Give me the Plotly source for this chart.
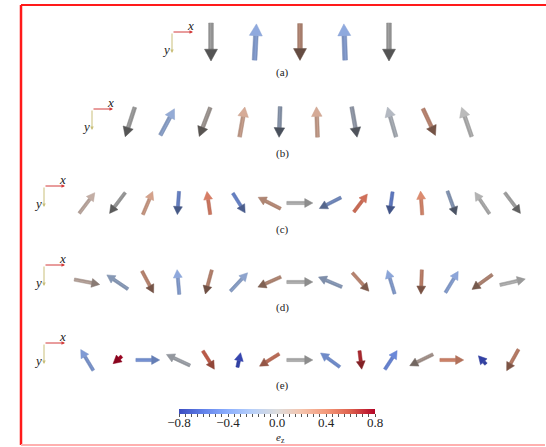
import numpy as np
import plotly.graph_objects as go
import plotly.colors as pc

# ---------------- data ----------------
row_labels = ["(a)", "(b)", "(c)", "(d)", "(e)"]
# in-plane direction (deg, x to the right, y downward) and out-of-plane component e_z
angles_a = [90, -87, 90, -92, 90]
ez_a = [0.0, -0.3, 0.25, -0.3, 0.0]
angles_b = [108, -62, 111, -80, 92, -92, 80, -106, 65, -109]
ez_b = [0.0, -0.25, 0.05, 0.2, -0.15, 0.2, -0.1, -0.05, 0.3, 0.0]
angles_c = [-53, 127, -67, 94, -98, 58, -153, 0, 153, -53, 98, -94, 70, -124, 53]
ez_c = [0.1, 0.0, 0.25, -0.45, 0.45, -0.45, 0.25, 0.0, -0.35, 0.5, -0.5, 0.4, -0.2, 0.0, 0.0]
angles_d = [11, -146, 62, -95, 105, -47, 156, 0, -157, 48, -107, 92, -59, 144, -13]
ez_d = [0.1, -0.2, 0.3, -0.3, 0.3, -0.25, 0.25, 0.0, -0.2, 0.3, -0.3, 0.35, -0.3, 0.25, 0.0]
angles_e = [-121, 140, 0, -155, 58, -78, 148, 0, -144, 83, -57, 154, 0, -132, 119]
ez_e = [-0.35, 0.9, -0.4, -0.05, 0.55, -0.82, 0.45, 0.0, -0.4, 0.7, -0.5, 0.1, 0.4, -0.9, 0.35]

cbar_ticks = [-0.8, -0.4, 0.0, 0.4, 0.8]
cbar_ticktext = ["\u22120.8", "\u22120.4", "0.0", "0.4", "0.8"]
cbar_title = "<i>e</i><sub>z</sub>"

coolwarm = [[0.0, "rgb(59,76,192)"], [0.125, "rgb(98,130,234)"], [0.25, "rgb(141,176,254)"],
            [0.375, "rgb(184,208,249)"], [0.5, "rgb(221,221,221)"], [0.625, "rgb(245,196,173)"],
            [0.75, "rgb(244,154,123)"], [0.875, "rgb(222,96,77)"], [1.0, "rgb(180,4,38)"]]
CMIN, CMAX = -0.8, 0.8

# ---------------- layout of the rows (pixel space) ----------------
W, H = 546, 447
rows = [
    dict(ang=angles_a, ez=ez_a, x0=211, dx=44.5, y=42, L=38, ox=172, oy=32, lab_y=72),
    dict(ang=angles_b, ez=ez_b, x0=130, dx=37.4, y=122, L=31, ox=92, oy=109, lab_y=153),
    dict(ang=angles_c, ez=ez_c, x0=87, dx=30.4, y=203, L=26, ox=44, oy=186, lab_y=229),
    dict(ang=angles_d, ez=ez_d, x0=87, dx=30.4, y=282, L=26, ox=44, oy=265, lab_y=307),
    dict(ang=angles_e, ez=ez_e, x0=87, dx=30.4, y=360, L=26, ox=44, oy=343, lab_y=385),
]

FONT = "Liberation Serif, Times New Roman, serif"


def shade(rgb_str, f):
    r, g, b = pc.unlabel_rgb(rgb_str)
    sat = (max(r, g, b) - min(r, g, b)) / 255.0
    fe = f + (1 - f) * min(1.0, max(0.0, sat - 0.3) * 1.5) if f < 1 else f
    return "rgb(%d,%d,%d)" % tuple(int(max(0, min(255, c * fe))) for c in (r, g, b))


fig = go.Figure()
annotations = []

for k, row in enumerate(rows):
    for i, (phi, ez) in enumerate(zip(row["ang"], row["ez"])):
        cx = row["x0"] + i * row["dx"]
        cy = row["y"]
        L = row["L"]
        t = np.radians(phi)
        u = np.array([np.cos(t), np.sin(t)])
        n = np.array([-u[1], u[0]])
        l = L * np.sqrt(max(0.0, 1 - ez ** 2))
        c = np.array([cx, cy])
        tail = c - u * l / 2
        tip = c + u * l / 2
        hl = min(0.31 * L, 0.72 * l)
        hw = 0.17 * L
        sw = 0.062 * L
        base = tip - u * hl
        tcol = min(1.0, max(0.0, (ez - CMIN) / (CMAX - CMIN)))
        base_c = pc.sample_colorscale(coolwarm, [tcol])[0]
        fs = 0.70 - 0.04 * np.sin(t) + 0.03 * np.cos(t)
        fh = fs * (0.88 - 0.30 * np.sin(t))
        shaft = np.array([tail + n * sw, base + n * sw, base - n * sw, tail - n * sw, tail + n * sw])
        head = np.array([base + n * hw, tip, base - n * hw, base + n * hw])
        fig.add_trace(go.Scatter(x=shaft[:, 0], y=shaft[:, 1], mode="lines", fill="toself",
                                 fillcolor=shade(base_c, fs), line=dict(width=0.5, color=shade(base_c, fs * 0.95)),
                                 hoverinfo="skip", showlegend=False))
        hi = np.array([tail + n * sw * 0.2, base + n * sw * 0.2])
        fig.add_trace(go.Scatter(x=hi[:, 0], y=hi[:, 1], mode="lines",
                                 line=dict(width=max(1, sw * 0.6), color=shade(base_c, min(1.1, fs * 1.2))),
                                 opacity=0.5, hoverinfo="skip", showlegend=False))
        fig.add_trace(go.Scatter(x=head[:, 0], y=head[:, 1], mode="lines", fill="toself",
                                 fillcolor=shade(base_c, fh), line=dict(width=0.5, color=shade(base_c, fh * 0.95)),
                                 hoverinfo="skip", showlegend=False))

    ox, oy = row["ox"], row["oy"]
    gl = 21
    annotations.append(dict(x=ox + gl, y=oy, ax=ox, ay=oy, xref="x", yref="y", axref="x", ayref="y",
                            text="", showarrow=True, arrowhead=2, arrowsize=0.7, arrowwidth=1,
                            arrowcolor="#d23a3a"))
    annotations.append(dict(x=ox, y=oy + gl, ax=ox, ay=oy, xref="x", yref="y", axref="x", ayref="y",
                            text="", showarrow=True, arrowhead=2, arrowsize=0.7, arrowwidth=1,
                            arrowcolor="#c9bf7a"))
    annotations.append(dict(x=ox + gl - 3, y=oy - 7, xref="x", yref="y", text="<i>x</i>", showarrow=False,
                            font=dict(family=FONT, size=13, color="#222")))
    annotations.append(dict(x=ox - 6, y=oy + gl - 4, xref="x", yref="y", text="<i>y</i>", showarrow=False,
                            font=dict(family=FONT, size=13, color="#222")))
    annotations.append(dict(x=282, y=row["lab_y"], xref="x", yref="y", text=row_labels[k], showarrow=False,
                            font=dict(family=FONT, size=11, color="#222")))

# colour bar label
annotations.append(dict(x=280, y=438, xref="x", yref="y", text=cbar_title, showarrow=False,
                        font=dict(family=FONT, size=11, color="#222")))

minor_vals = [round(-0.8 + 0.05 * j, 2) for j in range(33)]

# colour bar (bar + tick comb)
fig.add_trace(go.Scatter(
    x=[-500], y=[-500], mode="markers", showlegend=False, hoverinfo="skip",
    marker=dict(color=[0.0], colorscale=coolwarm, cmin=CMIN, cmax=CMAX, showscale=True,
                colorbar=dict(orientation="h", x=277 / W, xanchor="center", y=1 - 409 / H, yanchor="top",
                              len=196, lenmode="pixels", thickness=5, thicknessmode="pixels",
                              outlinewidth=0, ticks="outside", ticklen=3, tickwidth=0.6, tickcolor="#555",
                              tickvals=minor_vals, showticklabels=False,
                              xpad=0, ypad=0))))
# tick labels of the colour bar (transparent bar carrying the labels)
fig.add_trace(go.Scatter(
    x=[-500], y=[-500], mode="markers", showlegend=False, hoverinfo="skip",
    marker=dict(color=[0.0], colorscale=[[0, "rgba(0,0,0,0)"], [1, "rgba(0,0,0,0)"]], cmin=CMIN, cmax=CMAX,
                showscale=True,
                colorbar=dict(orientation="h", x=277 / W, xanchor="center", y=1 - 409.5 / H, yanchor="top",
                              len=196, lenmode="pixels", thickness=1, thicknessmode="pixels",
                              outlinewidth=0, ticks="", tickvals=cbar_ticks, ticktext=cbar_ticktext,
                              tickfont=dict(family=FONT, size=13, color="#222"),
                              xpad=0, ypad=0))))

shapes = [
    dict(type="line", x0=21, x1=W + 5, y0=5, y1=5, xref="x", yref="y", line=dict(color="#ff1a1a", width=2)),
    dict(type="line", x0=21, x1=21, y0=5, y1=445, xref="x", yref="y", line=dict(color="#ff1a1a", width=2.5)),
    dict(type="line", x0=21, x1=W - 1, y0=445, y1=445, xref="x", yref="y", line=dict(color="#ffb0b0", width=2)),
]

fig.update_layout(
    width=W, height=H, margin=dict(l=0, r=0, t=0, b=0),
    paper_bgcolor="white", plot_bgcolor="white",
    xaxis=dict(range=[0, W], visible=False, fixedrange=True),
    yaxis=dict(range=[H, 0], visible=False, fixedrange=True),
    annotations=annotations, shapes=shapes, hovermode=False, showlegend=False,
)

fig.write_html("out.html", config={"displayModeBar": False},
               post_script="document.body.style.margin='0';document.body.style.overflow='hidden';")
